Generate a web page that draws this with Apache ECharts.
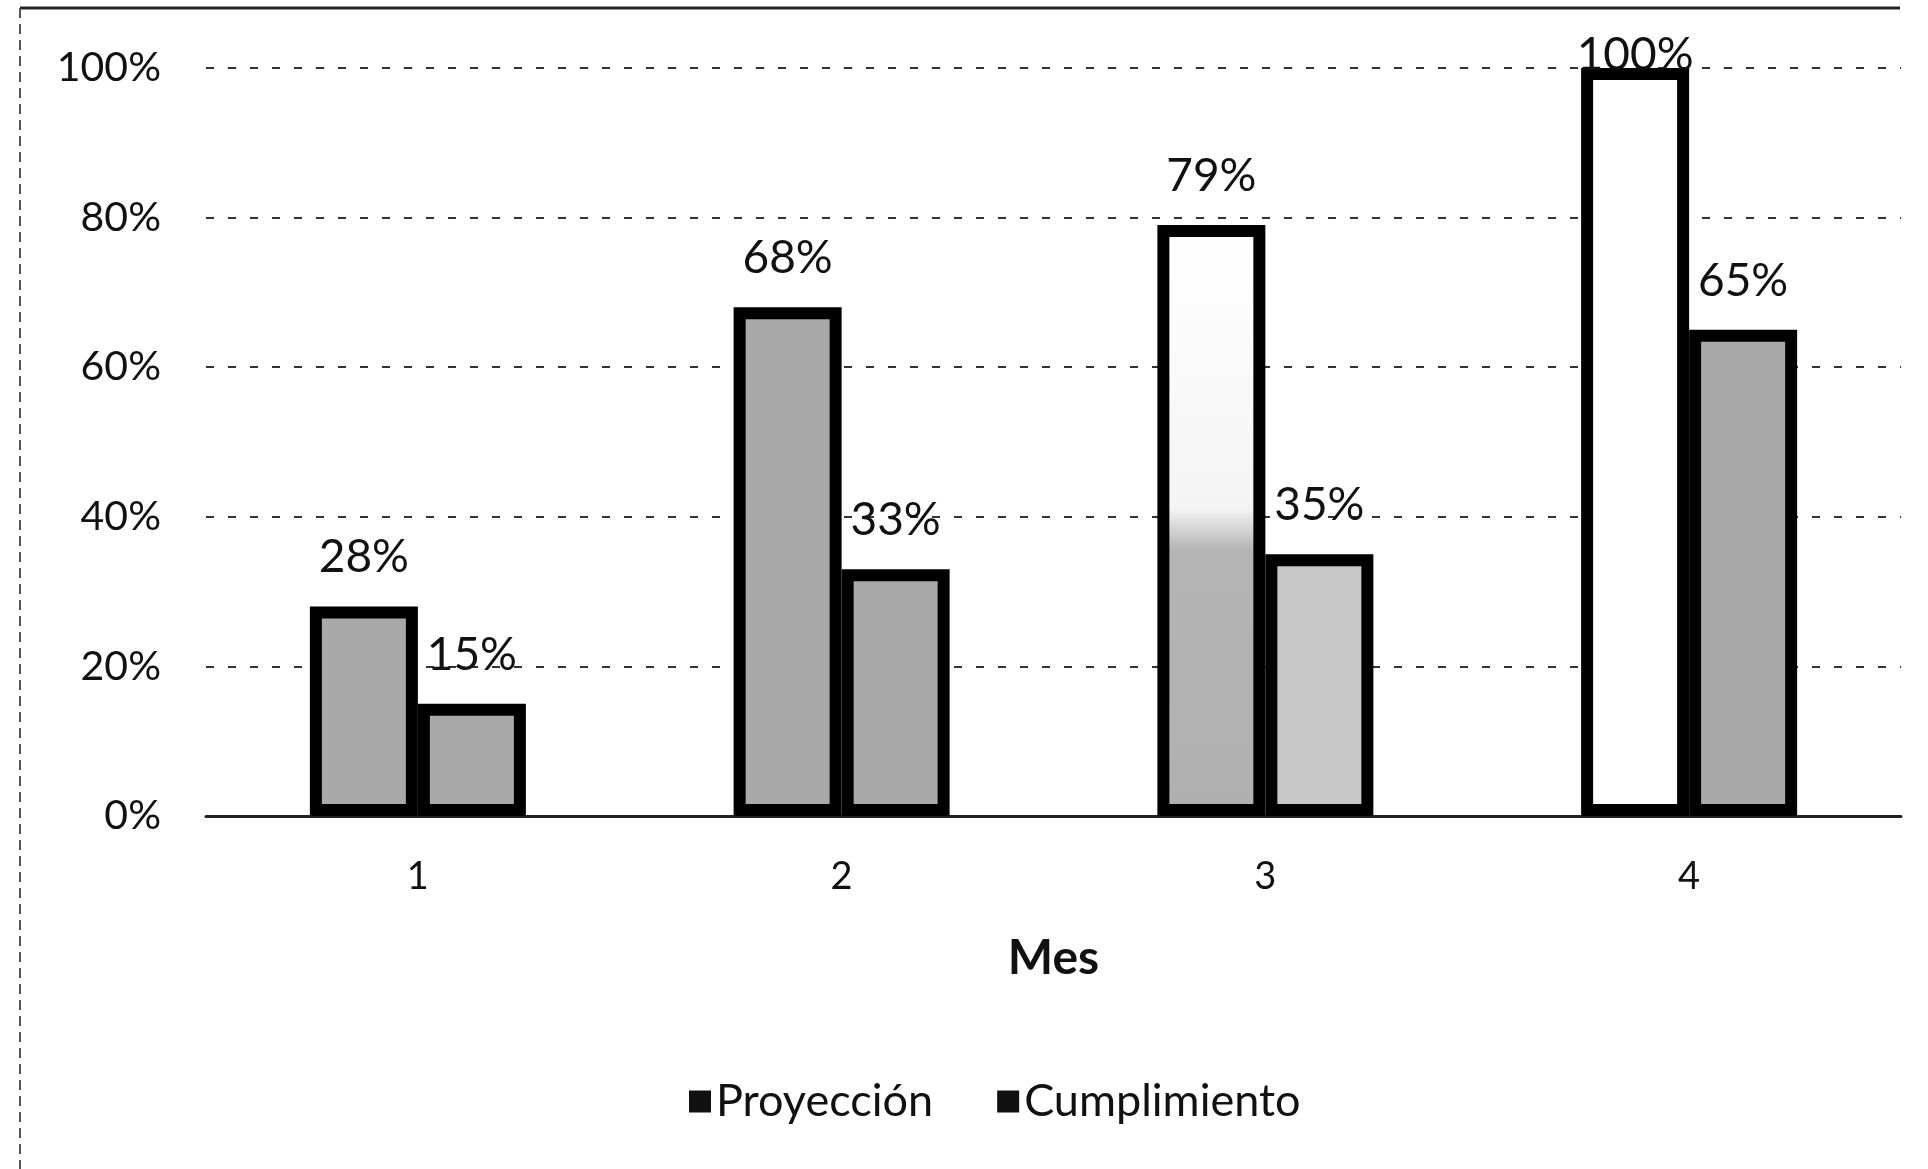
<!DOCTYPE html>
<html>
<head>
<meta charset="utf-8">
<script src="https://cdn.jsdelivr.net/npm/echarts@6/dist/echarts.min.js"></script>
<style>
html,body{margin:0;padding:0;background:#fff;}
#chart{width:1928px;height:1169px;}
</style>
</head>
<body>
<div id="chart"></div>
<script>
var categories = ['1', '2', '3', '4'];
var proyeccion = [28, 68, 79, 100];
var cumplimiento = [15, 33, 35, 65];
var seriesNames = ['Proyección', 'Cumplimiento'];
var axisTitle = 'Mes';

var FONT = 'Lato, "Liberation Sans", Arial, sans-serif';
var gray = '#a9a9a9';
var lightGray = '#c8c8c8';

function fillFor(series, i) {
  if (series === 0) {
    if (i === 2) {
      return {type:'linear', x:0, y:0, x2:0, y2:1, colorStops:[
        {offset:0, color:'#ffffff'}, {offset:0.48, color:'#f4f4f4'},
        {offset:0.55, color:'#b4b4b4'}, {offset:1, color:'#b0b0b0'}]};
    }
    if (i === 3) return '#ffffff';
    return gray;
  }
  if (i === 2) return lightGray;
  return gray;
}

function buildData(values, s) {
  return values.map(function (v, i) {
    var item = {value: v, itemStyle: {color: fillFor(s, i)}};
    if (v >= 100) item.label = {distance: -10};
    return item;
  });
}

var labelCfg = {show: true, position: 'top', distance: 26, fontFamily: FONT, fontSize: 46, color: '#111',
  formatter: function (p) { return p.value + '%'; }};

var chart = echarts.init(document.getElementById('chart'), null, {renderer:'canvas'});
chart.setOption({
  backgroundColor: '#ffffff',
  animation: false,
  textStyle: {fontFamily: FONT},
  grid: {left: 206, right: 27, top: 68, bottom: 353, containLabel: false},
  legend: {
    data: seriesNames,
    left: 684, top: 1074,
    itemWidth: 22, itemHeight: 22, itemGap: 64,
    icon: 'rect',
    itemStyle: {color: '#111111', borderWidth: 0},
    textStyle: {fontFamily: FONT, fontSize: 45, color: '#111'}
  },
  xAxis: {
    type: 'category',
    data: categories,
    name: axisTitle,
    nameLocation: 'middle',
    nameGap: 119,
    nameTextStyle: {fontFamily: FONT, fontSize: 48, fontWeight: 'bold', color: '#111'},
    axisLine: {show: true, lineStyle: {color: '#222', width: 3}},
    axisTick: {show: false},
    axisLabel: {fontFamily: FONT, fontSize: 38, color: '#111', margin: 42}
  },
  yAxis: {
    type: 'value',
    min: 0, max: 100, interval: 20,
    axisLine: {show: false},
    axisTick: {show: false},
    axisLabel: {fontFamily: FONT, fontSize: 41, color: '#111', margin: 45,
      formatter: function (v) { return v + '%'; }},
    splitLine: {show: true, lineStyle: {color: '#333', width: 2, type: [8, 14]}}
  },
  series: [
    {
      name: seriesNames[0], type: 'bar', barWidth: 108, barGap: '0%',
      data: buildData(proyeccion, 0),
      itemStyle: {color: gray, borderColor: '#000', borderWidth: 12},
      label: labelCfg
    },
    {
      name: seriesNames[1], type: 'bar', barWidth: 108,
      data: buildData(cumplimiento, 1),
      itemStyle: {color: gray, borderColor: '#000', borderWidth: 12},
      label: labelCfg
    }
  ],
  graphic: [
    {type: 'line', shape: {x1: 20, y1: 8, x2: 1900, y2: 8}, style: {stroke: '#222', lineWidth: 3}},
    {type: 'line', shape: {x1: 20, y1: 8, x2: 20, y2: 1169}, style: {stroke: '#555', lineWidth: 2, lineDash: [10, 6]}}
  ]
});
</script>
</body>
</html>
